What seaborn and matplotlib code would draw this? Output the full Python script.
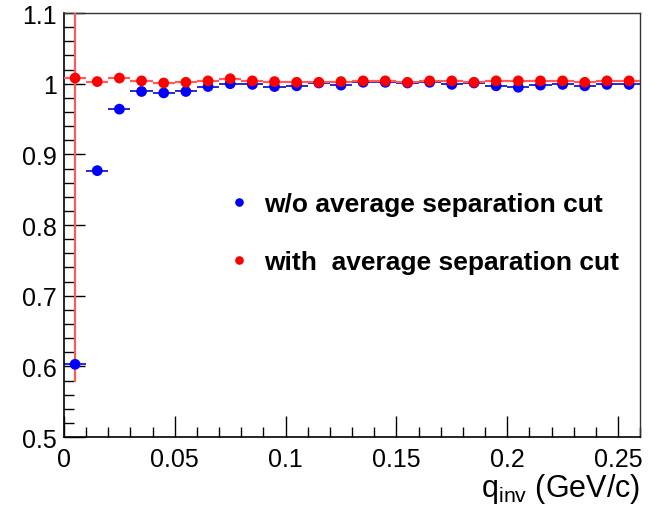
import matplotlib
matplotlib.use("Agg")
import matplotlib.pyplot as plt
import seaborn as sns
import pandas as pd
from matplotlib.ticker import MultipleLocator

# ---- data ----
q_centers = [0.005, 0.015, 0.025, 0.035, 0.045, 0.055, 0.065, 0.075, 0.085, 0.095,
             0.105, 0.115, 0.125, 0.135, 0.145, 0.155, 0.165, 0.175, 0.185, 0.195,
             0.205, 0.215, 0.225, 0.235, 0.245, 0.255]
bin_half_width = [0.005] * 26

no_cut = [0.603, 0.877, 0.964, 0.989, 0.987, 0.989, 0.996, 1.000, 0.999, 0.996,
          0.997, 1.001, 0.998, 1.002, 1.002, 1.001, 1.002, 0.999, 1.001, 0.997,
          0.995, 0.998, 0.999, 0.997, 0.999, 0.999]
no_cut_err = [0.008, 0.004, 0.002, 0.002, 0.002, 0.002, 0.002, 0.002, 0.002, 0.002,
              0.002, 0.002, 0.002, 0.002, 0.002, 0.002, 0.002, 0.002, 0.002, 0.002,
              0.002, 0.002, 0.002, 0.002, 0.002, 0.002]

with_cut = [1.008, 1.003, 1.008, 1.004, 1.001, 1.002, 1.004, 1.007, 1.004, 1.003,
            1.002, 1.002, 1.003, 1.004, 1.004, 1.002, 1.004, 1.004, 1.002, 1.004,
            1.004, 1.004, 1.004, 1.002, 1.004, 1.004]
with_cut_err = [0.43, 0.006, 0.004, 0.003, 0.003, 0.003, 0.003, 0.003, 0.003, 0.003,
                0.003, 0.003, 0.003, 0.003, 0.003, 0.003, 0.003, 0.003, 0.003, 0.003,
                0.003, 0.003, 0.003, 0.003, 0.003, 0.003]

labels = ["w/o average separation cut", "with  average separation cut"]
x_ticks = [0, 0.05, 0.1, 0.15, 0.2, 0.25]
y_ticks = [0.5, 0.6, 0.7, 0.8, 0.9, 1.0, 1.1]
x_tick_labels = ["0", "0.05", "0.1", "0.15", "0.2", "0.25"]
y_tick_labels = ["0.5", "0.6", "0.7", "0.8", "0.9", "1", "1.1"]

# ---- style ----
sns.set_theme(style="white")
plt.rcParams["font.family"] = ["Liberation Sans", "DejaVu Sans"]
plt.rcParams["mathtext.fontset"] = "custom"
plt.rcParams["mathtext.rm"] = "Liberation Sans"
plt.rcParams["mathtext.it"] = "Liberation Sans"
plt.rcParams["text.color"] = "black"
plt.rcParams["xtick.color"] = "black"
plt.rcParams["ytick.color"] = "black"
plt.rcParams["axes.labelcolor"] = "black"

df = pd.DataFrame({
    "q": q_centers * 2,
    "C": no_cut + with_cut,
    "series": [labels[0]] * 26 + [labels[1]] * 26,
})

fig = plt.figure(figsize=(6.57, 5.10), dpi=100)
ax = fig.add_axes([0.0974, 0.141, 0.877, 0.8315])

ax.errorbar(q_centers, no_cut, xerr=bin_half_width, yerr=no_cut_err, fmt="none",
            ecolor="#2a2ac8", elinewidth=1.4, capsize=0, zorder=2)
ax.errorbar(q_centers, with_cut, xerr=bin_half_width, yerr=with_cut_err, fmt="none",
            ecolor="#ff5a5a", elinewidth=1.6, capsize=0, zorder=3)

sns.scatterplot(data=df, x="q", y="C", hue="series",
                palette={labels[0]: "#0000ff", labels[1]: "#ff0000"},
                s=60, edgecolor="none", linewidth=0, ax=ax, zorder=4)

ax.set_xlim(0, 0.26)
ax.set_ylim(0.5, 1.1)
ax.set_xticks(x_ticks)
ax.set_xticklabels(x_tick_labels)
ax.set_yticks(y_ticks)
ax.set_yticklabels(y_tick_labels)
ax.xaxis.set_minor_locator(MultipleLocator(0.01))
ax.yaxis.set_minor_locator(MultipleLocator(0.02))
ax.tick_params(axis="both", which="major", direction="in", length=15, width=1.0,
               color="black", labelsize=18, pad=5, bottom=True, left=True,
               top=False, right=False, labelcolor="black")
ax.tick_params(axis="both", which="minor", direction="in", length=7, width=1.0,
               color="black", bottom=True, left=True, top=False, right=False)
ax.tick_params(axis="x", which="major", pad=7)

for side in ["left", "bottom"]:
    ax.spines[side].set_color("black")
    ax.spines[side].set_linewidth(1.2)
for side in ["top", "right"]:
    ax.spines[side].set_color("#333333")
    ax.spines[side].set_linewidth(1.0)

ax.set_ylabel("")
ax.set_xlabel(r"q$_{\rm inv}$ (GeV/c)", fontsize=22, loc="right", labelpad=0,
              color="black")

handles, lbls = ax.get_legend_handles_labels()
leg = ax.legend(handles, lbls, loc="upper left", bbox_to_anchor=(0.24, 0.633),
                frameon=False, markerscale=0.8, handletextpad=0.45,
                labelspacing=1.27, prop={"weight": "bold", "size": 19},
                handlelength=1.0)
for t in leg.get_texts():
    t.set_color("black")

fig.savefig("out.png", dpi=100)
